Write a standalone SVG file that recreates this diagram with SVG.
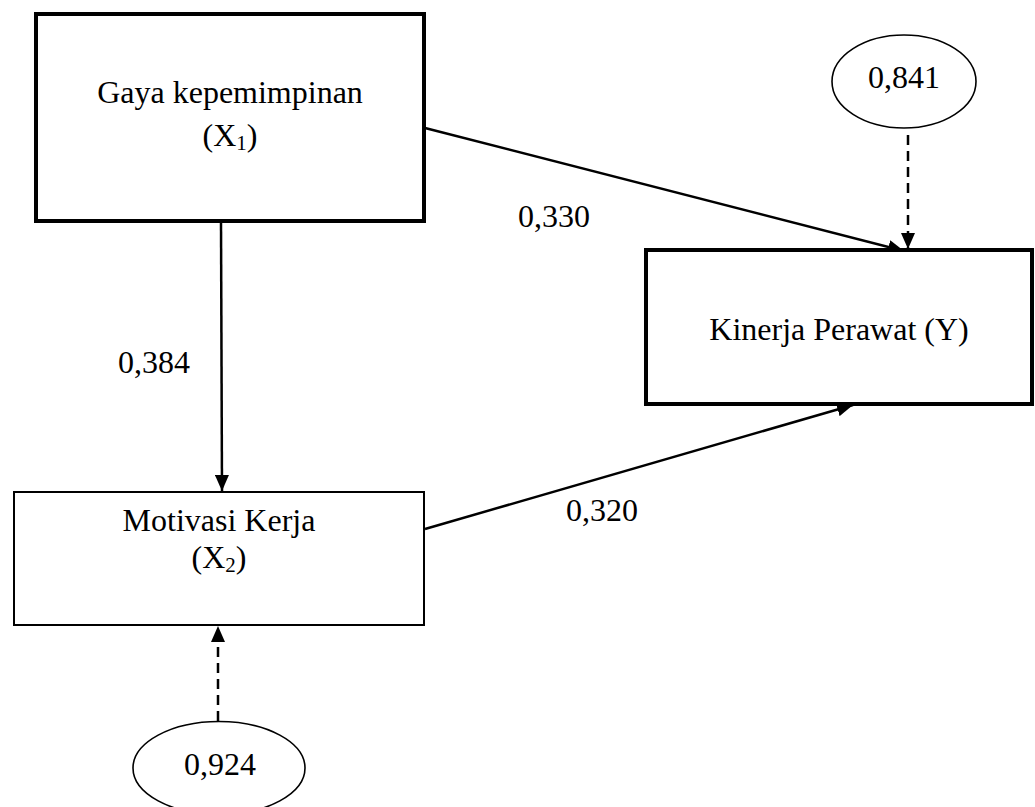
<svg xmlns="http://www.w3.org/2000/svg" width="1035" height="807" viewBox="0 0 1035 807">
<style>
text{font-family:"Liberation Serif","Times New Roman",serif;font-size:32px;fill:#000;text-anchor:middle}
.thick{fill:#fff;stroke:#000;stroke-width:4}
.thin{fill:#fff;stroke:#000;stroke-width:2}
.ell{fill:#fff;stroke:#000;stroke-width:1.6}
.conn{stroke:#000;stroke-width:2.5;fill:none}
.dash{stroke-dasharray:10 6}
.sub{font-size:21px}
</style>
<defs>
<marker id="ah" markerUnits="userSpaceOnUse" markerWidth="16" markerHeight="14" viewBox="0 0 16 14" refX="16" refY="7" orient="auto">
<path d="M0,0 L16,7 L0,14 Z" fill="#000"/>
</marker>
</defs>
<rect width="1035" height="807" fill="#fff"/>
<g id="connectors">
<line class="conn" x1="221" y1="222" x2="222" y2="491" marker-end="url(#ah)"/>
<line class="conn" x1="425" y1="128" x2="904" y2="251" marker-end="url(#ah)"/>
<line class="conn" x1="425" y1="529" x2="853" y2="405" marker-end="url(#ah)"/>
<line class="conn dash" x1="908" y1="135" x2="908" y2="249" marker-end="url(#ah)"/>
<line class="conn dash" x1="218" y1="721" x2="218" y2="626" marker-end="url(#ah)"/>
<text x="554" y="227">0,330</text>
<text x="154" y="373">0,384</text>
<text x="602" y="521">0,320</text>
</g>
<g id="gaya">
<rect class="thick" x="36" y="14" width="388" height="207"/>
<text x="230" y="103">Gaya kepemimpinan</text>
<text x="230" y="146">(X<tspan class="sub" dy="4">1</tspan><tspan dy="-4">)</tspan></text>
</g>
<g id="kinerja">
<rect class="thick" x="646" y="250" width="386" height="154"/>
<text x="839" y="340">Kinerja Perawat (Y)</text>
</g>
<g id="motivasi">
<rect class="thin" x="14" y="492" width="410" height="133"/>
<text x="219" y="531">Motivasi Kerja</text>
<text x="219" y="568">(X<tspan class="sub" dy="4">2</tspan><tspan dy="-4">)</tspan></text>
</g>
<g id="e1">
<ellipse class="ell" cx="904" cy="81.5" rx="72" ry="46.5"/>
<text x="904" y="88">0,841</text>
</g>
<g id="e2">
<ellipse class="ell" cx="219" cy="768" rx="86" ry="46.5"/>
<text x="220" y="775">0,924</text>
</g>
</svg>
